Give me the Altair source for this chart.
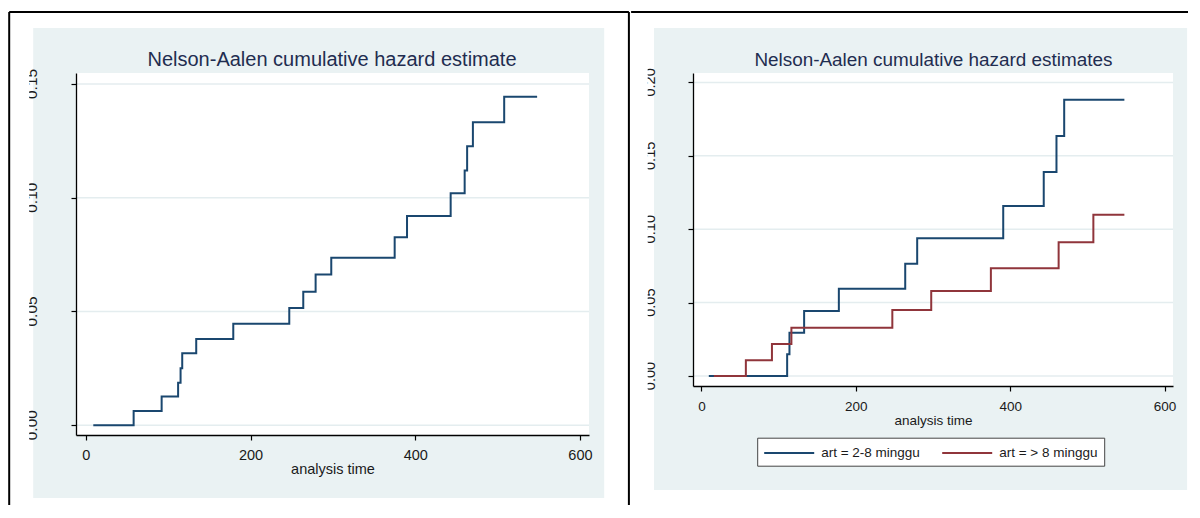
import altair as alt
import pandas as pd

# ---------------- data ----------------
# Left panel: overall Nelson-Aalen cumulative hazard (step points, last = end of follow-up)
t_all = [9, 58, 92, 112, 115, 117, 134, 179, 247, 264, 279, 298, 375, 390, 443, 460, 463, 470, 508, 548]
h_all = [0.0, 0.0063, 0.0126, 0.0187, 0.0250, 0.0316, 0.0379, 0.0446, 0.0515, 0.0587, 0.0662,
         0.0736, 0.0826, 0.0920, 0.1019, 0.1120, 0.1226, 0.1331, 0.1444, 0.1444]

# Right panel: by group
t_g1 = [9.5, 111, 114, 133, 178, 264, 279.5, 391, 443.5, 460, 470, 548]
h_g1 = [0.0, 0.0148, 0.0295, 0.0443, 0.0595, 0.0765, 0.0938, 0.1158, 0.1390, 0.1635, 0.1882, 0.1882]
t_g2 = [16, 57.5, 91.3, 116.5, 247.3, 297.7, 375, 462.8, 507.8, 548]
h_g2 = [0.0, 0.0107, 0.0218, 0.0329, 0.0450, 0.0579, 0.0734, 0.0911, 0.1099, 0.1099]

groups = ["art = 2-8 minggu", "art = > 8 minggu"]
x_ticks = [0, 200, 400, 600]
y_ticks_left = [0.0, 0.05, 0.10, 0.15]
y_ticks_right = [0.0, 0.05, 0.10, 0.15, 0.20]
titles = ["Nelson-Aalen cumulative hazard estimate", "Nelson-Aalen cumulative hazard estimates"]
x_title = "analysis time"

# ---------------- styles ----------------
FONT = "Liberation Sans, Arial, sans-serif"
NAVY = "#1a476f"
MAROON = "#90353b"
PANEL_BG = "#eaf2f3"
GRID = "#e4edef"
TITLE_COLOR = "#1f2d50"
TEXT = "#1a1a1a"

one = pd.DataFrame({"k": [0]})


def rect(x1, x2, y1, y2, color):
    return alt.Chart(one).mark_rect(color=color).encode(
        x=alt.value(x1), x2=alt.value(x2), y=alt.value(y1), y2=alt.value(y2))


def rule(x1, x2, y1, y2):
    return alt.Chart(one).mark_rule(color="black", strokeWidth=2).encode(
        x=alt.value(x1), x2=alt.value(x2), y=alt.value(y1), y2=alt.value(y2))


def title_text(text, cx, size):
    return alt.Chart(pd.DataFrame({"title": [text]})).mark_text(
        font=FONT, fontSize=size, color=TITLE_COLOR, align="center", baseline="alphabetic"
    ).encode(text="title:N", x=alt.value(cx), y=alt.value(-7.3))


def x_enc(domain, fs):
    return alt.X("t:Q", scale=alt.Scale(domain=domain, nice=False, zero=False),
                 axis=alt.Axis(values=x_ticks, format="d", title=x_title, grid=False,
                               domainColor="black", domainWidth=1.3, tickColor="black",
                               tickSize=5, tickWidth=1.2, labelFont=FONT, labelFontSize=fs,
                               labelColor=TEXT, labelPadding=8, labelFlush=False,
                               titleFont=FONT, titleFontSize=fs, titleFontWeight="normal",
                               titleColor=TEXT, titlePadding=1, zindex=1))


def y_enc(domain, ticks):
    return alt.Y("h:Q", scale=alt.Scale(domain=domain, nice=False, zero=False), title=None,
                 axis=alt.Axis(values=ticks, labels=False, grid=False,
                               domainColor="black", domainWidth=1.3, tickColor="black",
                               tickSize=5, tickWidth=1.2, zindex=1))


def grid(domain, ticks):
    return alt.Chart(pd.DataFrame({"h": ticks})).mark_rule(color=GRID, strokeWidth=1.5).encode(
        y=y_enc(domain, ticks))


def y_labels(domain, ticks, xpos, fs):
    # vertical tick labels (Stata style), read bottom-to-top
    return alt.Chart(pd.DataFrame({"h": ticks})).mark_text(
        font=FONT, fontSize=fs, color=TEXT, angle=270, align="center", baseline="alphabetic"
    ).encode(y=y_enc(domain, ticks), text=alt.Text("h:Q", format=".2f"), x=alt.value(xpos))


# ---------------- left panel ----------------
WL, HL = 513, 362
xdom_l = [-12, 611]
ydom_l = [-0.0043, 0.1548]
df_all = pd.DataFrame({"t": t_all, "h": h_all})

left = alt.layer(
    rect(-42.8, 528.2, -45, 425, PANEL_BG),
    rule(-66.8, -66.8, -61, 432),
    rule(-66.8, 552.9, -61, -61),
    rule(552.9, 552.9, -61, 432),
    rect(0, WL, 0, HL, "white"),
    title_text(titles[0], 256, 20),
    grid(ydom_l, y_ticks_left),
    alt.Chart(df_all).mark_line(interpolate="step-after", color=NAVY, strokeWidth=2).encode(
        x=x_enc(xdom_l, 14.5), y=y_enc(ydom_l, y_ticks_left)),
    y_labels(ydom_l, y_ticks_left, -39.3, 15.5),
    rect(-62, -46.8, -45, 425, "white"),
).properties(width=WL, height=HL)

# ---------------- right panel ----------------
WR, HR = 480, 313
xdom_r = [-11, 611]
ydom_r = [-0.0068, 0.2064]
df_grp = pd.concat([
    pd.DataFrame({"t": t_g1, "h": h_g1, "group": groups[0]}),
    pd.DataFrame({"t": t_g2, "h": h_g2, "group": groups[1]}),
])

# legend lives in the top-level group: position relative to the left plot's origin
legend = alt.Legend(title=None, orient="none", legendX=681.2, legendY=364.7,
                    direction="horizontal", symbolType="M-1,0H5.25", symbolSize=256,
                    symbolStrokeWidth=2, labelFont=FONT, labelFontSize=13.5, labelColor=TEXT,
                    labelOffset=40, columnPadding=18, padding=6, fillColor="white",
                    strokeColor="#444", cornerRadius=0, labelLimit=300)

right = alt.layer(
    rect(-39, 494.1, -45, 417, PANEL_BG),
    rule(-61.9, 495, -61, -61),
    rect(0, WR, 0, HR, "white"),
    title_text(titles[1], 240.4, 18.9),
    grid(ydom_r, y_ticks_right),
    alt.Chart(df_grp).mark_line(interpolate="step-after", strokeWidth=2).encode(
        x=x_enc(xdom_r, 13.5), y=y_enc(ydom_r, y_ticks_right),
        color=alt.Color("group:N", scale=alt.Scale(domain=groups, range=[NAVY, MAROON]),
                        legend=legend)),
    y_labels(ydom_r, y_ticks_right, -37.6, 14.6),
    rect(-58, -45.3, -45, 417, "white"),
).properties(width=WR, height=HR)

chart = alt.hconcat(left, right, spacing=0).properties(
    padding={"left": 0, "top": 3, "right": 0, "bottom": 0}, background="white"
).configure_view(strokeWidth=0)

chart.save("out.html", embed_options={"renderer": "svg", "actions": False})
